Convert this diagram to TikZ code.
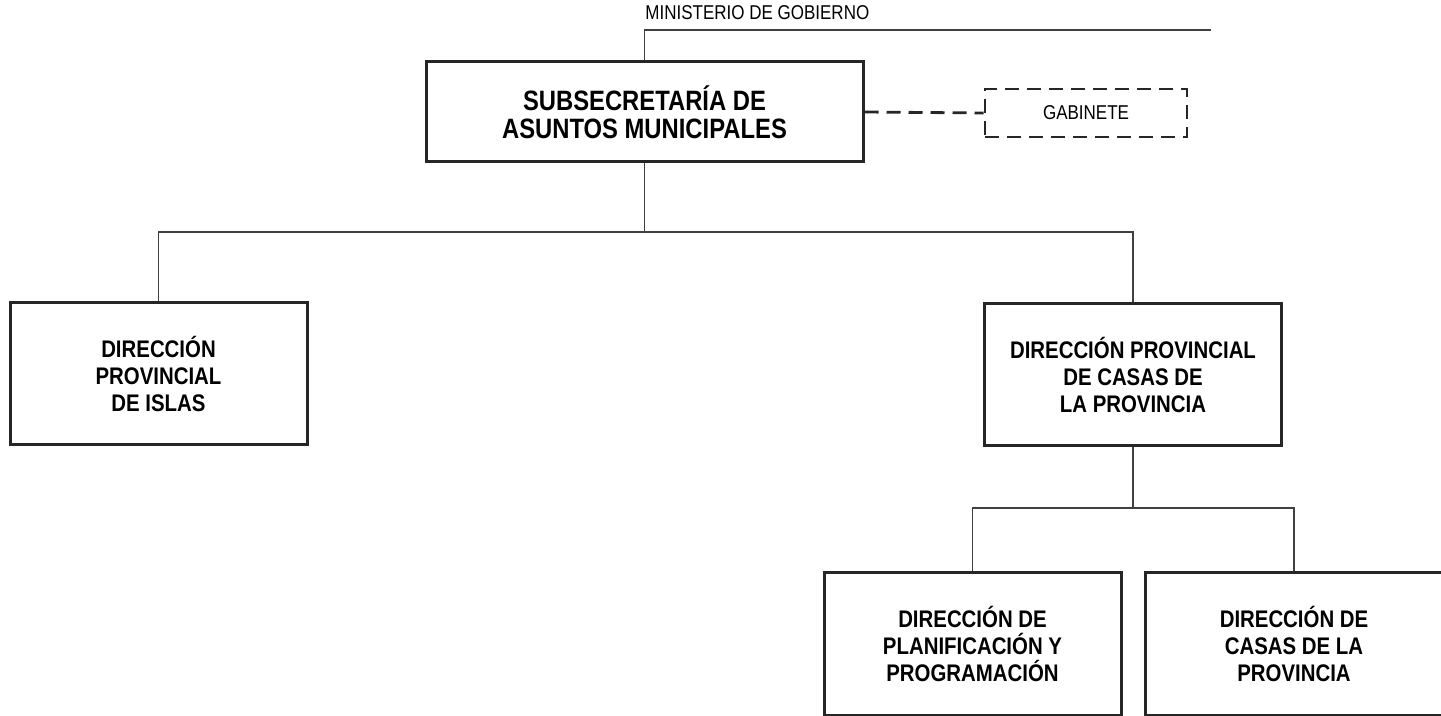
\documentclass[tikz,border=0pt]{standalone}
\usepackage{fontspec}
\setmainfont{Liberation Sans}[FakeStretch=0.85]

\begin{document}
\begin{tikzpicture}[x=0.5pt,y=-0.5pt,
    caja/.style={draw=black!85,line width=1.5pt,align=center,inner sep=0pt,
        font=\bfseries\fontsize{12}{13.5}\selectfont,minimum width=148.5pt,minimum height=71pt},
    linea/.style={draw=black!75,line width=0.6pt},
    punteada/.style={draw=black!85,line width=1.4pt,dash pattern=on 7pt off 4pt}]
    \useasboundingbox(0,0)rectangle(1441,716);

    \node[anchor=base west,inner sep=0pt,font=\fontsize{10}{12}\selectfont](ministerio)at(645,20){MINISTERIO DE GOBIERNO};
    \coordinate(fin)at(1211,30);
    \node[caja,minimum width=218.5pt,minimum height=50pt,font=\bfseries\fontsize{14}{14}\selectfont](subse)at(644.5,112){SUBSECRETARÍA DE\\ASUNTOS MUNICIPALES};
    \node[punteada,align=center,minimum width=101pt,minimum height=24pt,font=\fontsize{10}{11}\selectfont](gabinete)at(1086,113){GABINETE};

    \node[caja](islas)at(158.5,374){DIRECCIÓN\\PROVINCIAL\\DE ISLAS};
    \node[caja](casas)at(1133,374.5){DIRECCIÓN PROVINCIAL\\DE CASAS DE\\LA PROVINCIA};
    \node[caja](planif)at(972.5,644){DIRECCIÓN DE\\PLANIFICACIÓN Y\\PROGRAMACIÓN};
    \node[caja](casasdir)at(1294,644){DIRECCIÓN DE\\CASAS DE LA\\PROVINCIA};

    \coordinate(bus1)at(644.5,232);
    \coordinate(bus2)at(1133,508);

    \draw[linea](subse.north)|-(fin);
    \draw[punteada](subse.east)--(gabinete.west);
    \draw[linea](subse.south)--(bus1);
    \draw[linea](islas.north)|-(bus1)-|(casas.north);
    \draw[linea](casas.south)--(bus2);
    \draw[linea](planif.north)|-(bus2)-|(casasdir.north);
\end{tikzpicture}
\end{document}
